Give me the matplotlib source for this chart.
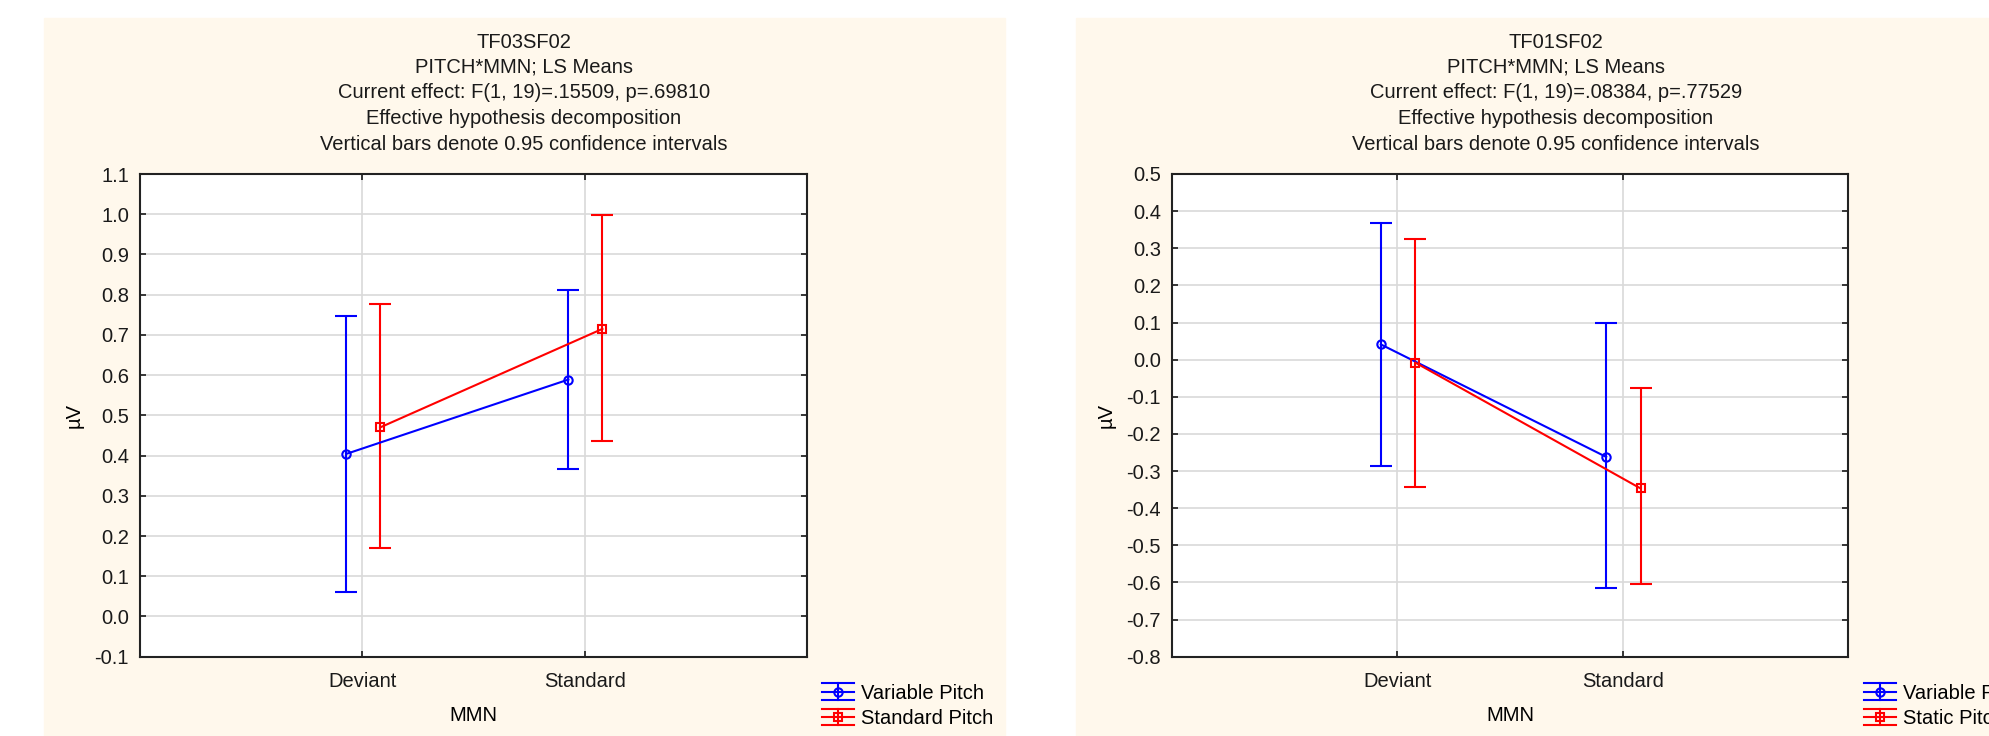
import numpy as np
import matplotlib
matplotlib.use("Agg")
import matplotlib.pyplot as plt
from matplotlib.lines import Line2D
from matplotlib.patches import Rectangle
from matplotlib.legend_handler import HandlerBase
import matplotlib.ticker as ticker

plt.rcParams['font.family'] = ['Liberation Sans', 'DejaVu Sans']

# LS means with 0.95 confidence limits, per MMN level (Deviant, Standard)
categories = ['Deviant', 'Standard']

tf03_titles = ['TF03SF02', 'PITCH*MMN; LS Means',
               'Current effect: F(1, 19)=.15509, p=.69810',
               'Effective hypothesis decomposition',
               'Vertical bars denote 0.95 confidence intervals']
tf03_variable_mean = [0.404, 0.589]
tf03_variable_low = [0.061, 0.366]
tf03_variable_high = [0.748, 0.812]
tf03_standard_mean = [0.470, 0.715]
tf03_standard_low = [0.169, 0.437]
tf03_standard_high = [0.778, 0.997]

tf01_titles = ['TF01SF02', 'PITCH*MMN; LS Means',
               'Current effect: F(1, 19)=.08384, p=.77529',
               'Effective hypothesis decomposition',
               'Vertical bars denote 0.95 confidence intervals']
tf01_variable_mean = [0.041, -0.262]
tf01_variable_low = [-0.286, -0.614]
tf01_variable_high = [0.368, 0.098]
tf01_static_mean = [-0.008, -0.347]
tf01_static_low = [-0.343, -0.605]
tf01_static_high = [0.326, -0.077]

BG = '#fff8ec'
FS = 14.5


class CapBarHandler(HandlerBase):
    # legend key: full-width caps, a centre line with the marker, and a vertical bar
    def create_artists(self, legend, orig, xd, yd, width, height, fontsize, trans):
        c = orig.get_color()
        x0, x1 = -xd, -xd + width
        xm = (x0 + x1) / 2
        ym = -yd + height / 2
        h = 0.42 * fontsize
        lw = orig.get_linewidth()
        arts = [
            Line2D([x0, x1], [ym + h, ym + h], color=c, lw=lw),
            Line2D([x0, x1], [ym - h, ym - h], color=c, lw=lw),
            Line2D([x0, x1], [ym, ym], color=c, lw=lw),
            Line2D([xm, xm], [ym - h, ym + h], color=c, lw=lw),
            Line2D([xm], [ym], marker=orig.get_marker(), ms=orig.get_markersize(),
                   mfc='none', mec=c, mew=orig.get_markeredgewidth(), lw=0),
        ]
        for a in arts:
            a.set_transform(trans)
        return arts


def draw_panel(fig, rect, titles, title_x, series, ylim, legend_xy):
    ax = fig.add_axes(rect)
    ax.set_facecolor('white')
    x = np.arange(1, len(categories) + 1)
    handles = []
    for label, mean, low, high, color, marker, dx in series:
        mean = np.array(mean)
        yerr = [mean - np.array(low), np.array(high) - mean]
        eb = ax.errorbar(x + dx, mean, yerr=yerr, color=color, marker=marker, ms=6,
                         mfc='none', mec=color, mew=1.5, lw=1.5, elinewidth=1.5,
                         capsize=8, capthick=1.5, label=label, zorder=3)
        handles.append(eb[0])
    ax.set_xlim(0, 3)
    ax.set_ylim(*ylim)
    ax.set_xticks(x)
    ax.set_xticklabels(categories)
    ax.yaxis.set_major_locator(ticker.MultipleLocator(0.1))
    ax.yaxis.set_major_formatter(ticker.FormatStrFormatter('%.1f'))
    ax.grid(True, color='#d9d9d9', lw=1.2, zorder=0)
    ax.set_axisbelow(True)
    ax.tick_params(axis='both', direction='in', length=4, width=1.2, labelsize=FS,
                   colors='#1a1a1a', right=True, top=True)
    ax.tick_params(axis='y', pad=8)
    ax.tick_params(axis='x', pad=11)
    for s in ax.spines.values():
        s.set_linewidth(1.5)
        s.set_color('#222222')
    ax.set_xlabel('MMN', fontsize=FS, labelpad=10.5)
    ax.set_ylabel('µV', fontsize=FS, labelpad=8)

    tops = [43, 67, 92.5, 119, 145]
    for t, y in zip(titles, tops):
        fig.text(title_x, 1 - y / 736, t, ha='center', va='center', fontsize=FS, color='#1a1a1a')

    fig.legend(handles=handles, labels=[s[0] for s in series],
               handler_map={Line2D: CapBarHandler()}, loc='upper left',
               bbox_to_anchor=legend_xy, frameon=False, fontsize=FS, borderpad=0,
               borderaxespad=0, handlelength=1.6, handletextpad=0.35, labelspacing=0.3)
    return ax


fig = plt.figure(figsize=(19.89, 7.36), dpi=100)
fig.patch.set_facecolor('white')
fig.patches.append(Rectangle((44 / 1989, 0), (1005 - 44) / 1989, 1 - 18 / 736,
                             transform=fig.transFigure, color=BG, zorder=-10))
fig.patches.append(Rectangle((1076 / 1989, 0), 1, 1 - 18 / 736,
                             transform=fig.transFigure, color=BG, zorder=-10))

draw_panel(fig, [140 / 1989, 1 - 656.7 / 736, (807 - 140) / 1989, (656.7 - 174) / 736],
           tf03_titles, 524 / 1989,
           [('Variable Pitch', tf03_variable_mean, tf03_variable_low, tf03_variable_high, 'blue', 'o', -0.073),
            ('Standard Pitch', tf03_standard_mean, tf03_standard_low, tf03_standard_high, 'red', 's', 0.08)],
           (-0.1, 1.1), (822 / 1989, 1 - 684 / 736))

draw_panel(fig, [1172 / 1989, 1 - 656.7 / 736, (1848 - 1172) / 1989, (656.7 - 174) / 736],
           tf01_titles, 1556 / 1989,
           [('Variable Pitch', tf01_variable_mean, tf01_variable_low, tf01_variable_high, 'blue', 'o', -0.073),
            ('Static Pitch', tf01_static_mean, tf01_static_low, tf01_static_high, 'red', 's', 0.08)],
           (-0.8, 0.5), (1864 / 1989, 1 - 684 / 736))

fig.savefig('out.png', dpi=100, facecolor=fig.get_facecolor())
